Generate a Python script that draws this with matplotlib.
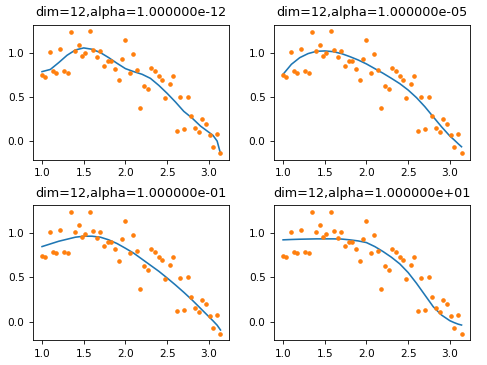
import matplotlib.pyplot as plt

# data points
x = [1.00, 1.04, 1.09, 1.13, 1.17, 1.22, 1.26, 1.31, 1.35, 1.39,
     1.44, 1.48, 1.52, 1.57, 1.61, 1.66, 1.70, 1.74, 1.79, 1.83,
     1.87, 1.92, 1.96, 2.00, 2.05, 2.09, 2.14, 2.18, 2.22, 2.27,
     2.31, 2.35, 2.40, 2.44, 2.48, 2.53, 2.57, 2.62, 2.66, 2.70,
     2.75, 2.79, 2.83, 2.88, 2.92, 2.97, 3.01, 3.05, 3.10, 3.14]
y = [0.747, 0.728, 1.011, 0.792, 0.774, 1.038, 0.792, 0.774, 1.238, 1.019,
     1.091, 0.958, 0.992, 1.245, 1.030, 0.951, 1.019, 0.853, 0.906, 0.906,
     0.819, 0.687, 0.932, 1.143, 0.774, 0.985, 0.800, 0.370, 0.626, 0.589,
     0.826, 0.789, 0.736, 0.694, 0.483, 0.642, 0.736, 0.117, 0.494, 0.136,
     0.502, 0.279, 0.151, 0.106, 0.249, 0.196, 0.064, -0.068, 0.079, -0.140]

# fitted curves, one per alpha
curve_x = [1.0, 1.1, 1.2, 1.3, 1.4, 1.5, 1.6, 1.7, 1.8, 1.9, 2.0, 2.1,
           2.2, 2.3, 2.4, 2.5, 2.6, 2.7, 2.8, 2.9, 3.0, 3.05, 3.1, 3.14]
fit_a = [0.785, 0.81, 0.887, 0.97, 1.03, 1.053, 1.038, 1.0, 0.943, 0.879, 0.819, 0.785,
         0.755, 0.709, 0.63, 0.54, 0.442, 0.336, 0.26, 0.17, 0.10, 0.065, 0.0, -0.14]
fit_b = [0.755, 0.868, 0.943, 0.989, 1.015, 1.019, 1.011, 0.989, 0.955, 0.917, 0.872, 0.819,
         0.766, 0.709, 0.649, 0.577, 0.491, 0.389, 0.275, 0.162, 0.057, 0.015, -0.03, -0.064]
fit_c = [0.849, 0.879, 0.909, 0.932, 0.955, 0.966, 0.966, 0.955, 0.925, 0.883, 0.83, 0.774,
         0.706, 0.638, 0.57, 0.494, 0.415, 0.332, 0.245, 0.151, 0.057, 0.01, -0.04, -0.094]
fit_d = [0.925, 0.929, 0.932, 0.934, 0.936, 0.936, 0.936, 0.934, 0.925, 0.913, 0.894, 0.849,
         0.792, 0.728, 0.653, 0.555, 0.434, 0.302, 0.17, 0.075, 0.011, -0.01, -0.028, -0.038]

titles = ['dim=12,alpha=1.000000e-12', 'dim=12,alpha=1.000000e-05',
          'dim=12,alpha=1.000000e-01', 'dim=12,alpha=1.000000e+01']
fits = [fit_a, fit_b, fit_c, fit_d]

fig = plt.figure(figsize=(4.87, 3.65), dpi=100)
for i in range(4):
    ax = fig.add_subplot(2, 2, i + 1)
    ax.plot(curve_x, fits[i], color='C0', linewidth=1.15)
    ax.plot(x, y, '.', color='C1', markersize=4.6)
    ax.set_title(titles[i], fontsize=9.2)
    ax.set_xticks([1.0, 1.5, 2.0, 2.5, 3.0])
    ax.set_yticks([0.0, 0.5, 1.0])
    ax.tick_params(labelsize=7.6, length=2.7, width=0.6)
    for s in ax.spines.values():
        s.set_linewidth(0.6)

plt.subplots_adjust(left=0.068, right=0.966, bottom=0.068, top=0.932,
                    wspace=0.228, hspace=0.34)
plt.savefig('out.png')
